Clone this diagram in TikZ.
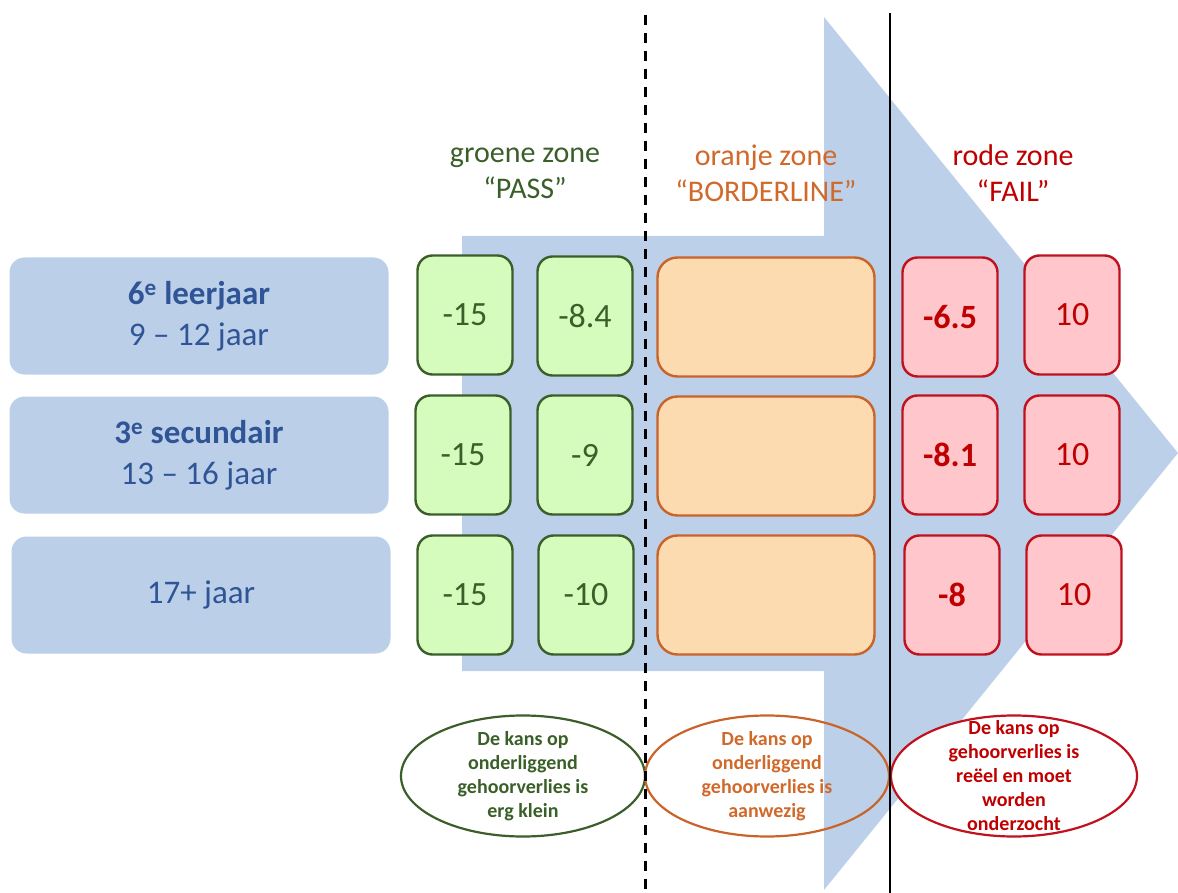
\documentclass[tikz,border=0pt]{standalone}
\usepackage{fontspec}
\setmainfont{Carlito}
\usetikzlibrary{shapes.geometric}
\definecolor{arrowblue}{HTML}{BDD0EA}
\definecolor{ageblue}{HTML}{BCCFE9}
\definecolor{textblue}{HTML}{2F5597}
\definecolor{gtext}{HTML}{3A5F28}
\definecolor{gline}{HTML}{3B5E2B}
\definecolor{gfill}{HTML}{D5FCBD}
\definecolor{otext}{HTML}{D0692A}
\definecolor{oline}{HTML}{C8642A}
\definecolor{ofill}{HTML}{FDDBB1}
\definecolor{rtext}{HTML}{C00000}
\definecolor{rline}{HTML}{C0121E}
\definecolor{rfill}{HTML}{FFC6CB}
\tikzset{
  agebox/.style={fill=ageblue, rounded corners=15pt, minimum width=379pt, minimum height=117pt,
    text=textblue, align=center, inner sep=0pt, font=\fontsize{33}{41}\selectfont},
  numbox/.style={rounded corners=15pt, minimum width=95pt, minimum height=119pt, line width=2.4pt,
    inner sep=0pt, font=\fontsize{34}{40}\selectfont},
  gbox/.style={numbox, draw=gline, fill=gfill, text=gtext},
  rbox/.style={numbox, draw=rline, fill=rfill, text=rtext},
  obox/.style={rounded corners=20pt, minimum width=217pt, minimum height=119pt, line width=2.4pt,
    draw=oline, fill=ofill, inner sep=0pt},
  header/.style={align=center, inner sep=0pt, font=\fontsize{30}{36}\selectfont},
  zoneell/.style={ellipse, line width=2.2pt, minimum width=244pt, minimum height=121pt, inner sep=0pt},
  elltext/.style={align=center, inner sep=0pt, font=\bfseries\fontsize{20}{24}\selectfont},
}
\begin{document}
\begin{tikzpicture}[x=1pt, y=-1pt]
\useasboundingbox (0,0) rectangle (1178,893);
% big arrow
\fill[arrowblue] (462,236) -- (824,236) -- (824,17) -- (1178,453) -- (824,890) -- (824,671) -- (462,671) -- cycle;

% age boxes
\node[agebox] (a1) at (199,316) {\textbf{6\textsuperscript{e} leerjaar}\\9 -- 12 jaar};
\node[agebox] (a2) at (199,455) {\textbf{3\textsuperscript{e} secundair}\\13 -- 16 jaar};
\node[agebox] (a3) at (201,595) {17+ jaar};

% headers
\node[header, text=gtext] (hg) at (525,173) {groene zone\\“PASS”};
\node[header, text=otext] (ho) at (766,173) {oranje zone\\“BORDERLINE”};
\node[header, text=rtext] (hr) at (1013,173) {rode zone\\“FAIL”};

% green boxes
\node[gbox] (g11) at (465,315) {-15};
\node[gbox] (g12) at (585,316) {-8.4};
\node[gbox] (g21) at (463,455) {-15};
\node[gbox] (g22) at (585,455) {-9};
\node[gbox] (g31) at (465,595) {-15};
\node[gbox] (g32) at (586,595) {-10};

% orange boxes
\node[obox] (o1) at (766,317) {};
\node[obox] (o2) at (766,456) {};
\node[obox] (o3) at (766,595) {};

% red boxes
\node[rbox] (r11) at (950,317) {\textbf{-6.5}};
\node[rbox] (r12) at (1072,315) {10};
\node[rbox] (r21) at (950,455) {\textbf{-8.1}};
\node[rbox] (r22) at (1072,455) {10};
\node[rbox] (r31) at (952,595) {\textbf{-8}};
\node[rbox] (r32) at (1074,595) {10};

% ellipses
\node[zoneell, draw=gline] (eg) at (523,776) {};
\node[zoneell, draw=oline] (eo) at (767,776) {};
\node[zoneell, draw=rline, fill=white, minimum width=246pt] (er) at (1014,776) {};
\node[elltext, text=gtext] (tg) at (eg) {De kans op\\onderliggend\\gehoorverlies is\\erg klein};
\node[elltext, text=otext] (to) at (eo) {De kans op\\onderliggend\\gehoorverlies is\\aanwezig};
\node[elltext, text=rtext] (tr) at (er) {De kans op\\gehoorverlies is\\reëel en moet\\worden\\onderzocht};

% zone separators
\coordinate (d1) at (645,15);
\coordinate (d2) at (645,893);
\coordinate (s1) at (890,13);
\coordinate (s2) at (890,893);
\draw[line width=3pt, dash pattern=on 10pt off 8pt] (d1) -- (d2);
\draw[line width=2.6pt] (s1) -- (s2);
\end{tikzpicture}
\end{document}
